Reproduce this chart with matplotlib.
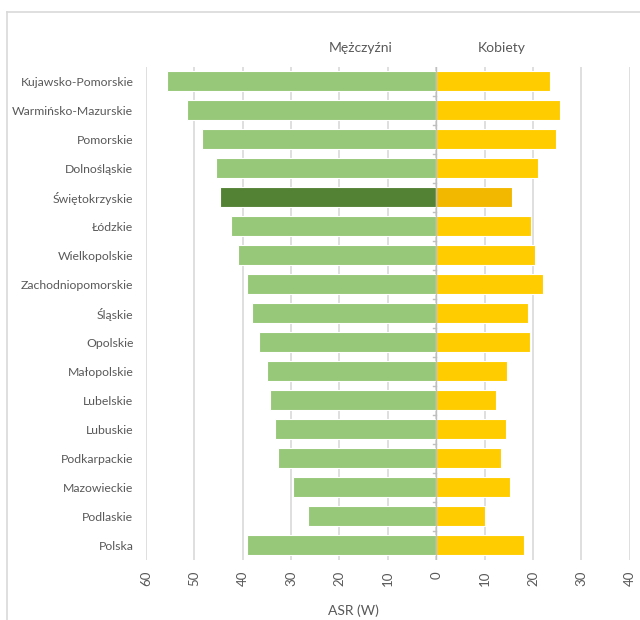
import numpy as np
import matplotlib.pyplot as plt
from matplotlib.lines import Line2D

regions = [
    "Kujawsko-Pomorskie", "Warmińsko-Mazurskie", "Pomorskie", "Dolnośląskie",
    "Świętokrzyskie", "Łódzkie", "Wielkopolskie", "Zachodniopomorskie",
    "Śląskie", "Opolskie", "Małopolskie", "Lubelskie", "Lubuskie",
    "Podkarpackie", "Mazowieckie", "Podlaskie", "Polska",
]
men = [55.7, 51.5, 48.5, 45.6, 44.6, 42.5, 40.9, 39.1, 38.0, 36.6,
       34.9, 34.3, 33.4, 32.7, 29.5, 26.6, 39.1]
women = [23.6, 25.6, 24.8, 21.1, 15.7, 19.5, 20.4, 22.1, 18.9, 19.3,
         14.7, 12.3, 14.4, 13.3, 15.2, 10.1, 18.2]
highlight = "Świętokrzyskie"
x_ticks = [-60, -50, -40, -30, -20, -10, 0, 10, 20, 30, 40]

plt.rcParams['font.family'] = ['Lato', 'DejaVu Sans']
text_color = '#595959'
grid_color = '#d9d9d9'

fig = plt.figure(figsize=(6.4, 6.2), dpi=100)
ax = fig.add_axes([0.228, 0.097, 0.756, 0.795])

n = len(regions)
y = np.arange(n)[::-1]
men_colors = ['#548235' if r == highlight else '#97c778' for r in regions]
women_colors = ['#f2b800' if r == highlight else '#ffcc00' for r in regions]

ax.barh(y, [-v for v in men], height=0.69, color=men_colors,
        edgecolor='white', linewidth=0.8, zorder=3)
ax.barh(y, women, height=0.69, color=women_colors,
        edgecolor='white', linewidth=0.8, zorder=3)

ax.set_xlim(-60, 40)
ax.set_ylim(-0.5, n - 0.5)
ax.set_xticks(x_ticks)
ax.set_xticklabels([str(abs(t)) for t in x_ticks], rotation=90,
                   fontsize=9.5, color=text_color)
ax.set_yticks(y)
ax.set_yticklabels(regions, fontsize=8.8, color=text_color)
ax.tick_params(axis='x', length=0, pad=8)
ax.tick_params(axis='y', length=0, pad=9)

ax.grid(axis='x', color=grid_color, linewidth=1.2, zorder=0)
for s in ax.spines.values():
    s.set_visible(False)

# zero axis with small category ticks
ax.axvline(0, color='#bfbfbf', linewidth=1, zorder=4)
for b in np.arange(n - 1) + 0.5:
    ax.plot([-0.6, 0], [b, b], color='#bfbfbf', linewidth=1, zorder=4)

# axis title sits a bit left of the axes centre, as in the original
fig.text(0.552, 0.008, 'ASR (W)', fontsize=10, color=text_color, ha='center')

fig.text(0.563, 0.916, 'Mężczyźni', fontsize=10, color=text_color, ha='center')
fig.text(0.784, 0.916, 'Kobiety', fontsize=10, color=text_color, ha='center')

# chart border
fig.add_artist(Line2D([7 / 640, 1], [1 - 12 / 620, 1 - 12 / 620],
                      color=grid_color, linewidth=1.2))
fig.add_artist(Line2D([7 / 640, 7 / 640], [0, 1 - 12 / 620],
                      color=grid_color, linewidth=1.2))

plt.savefig('out.png', dpi=100)
